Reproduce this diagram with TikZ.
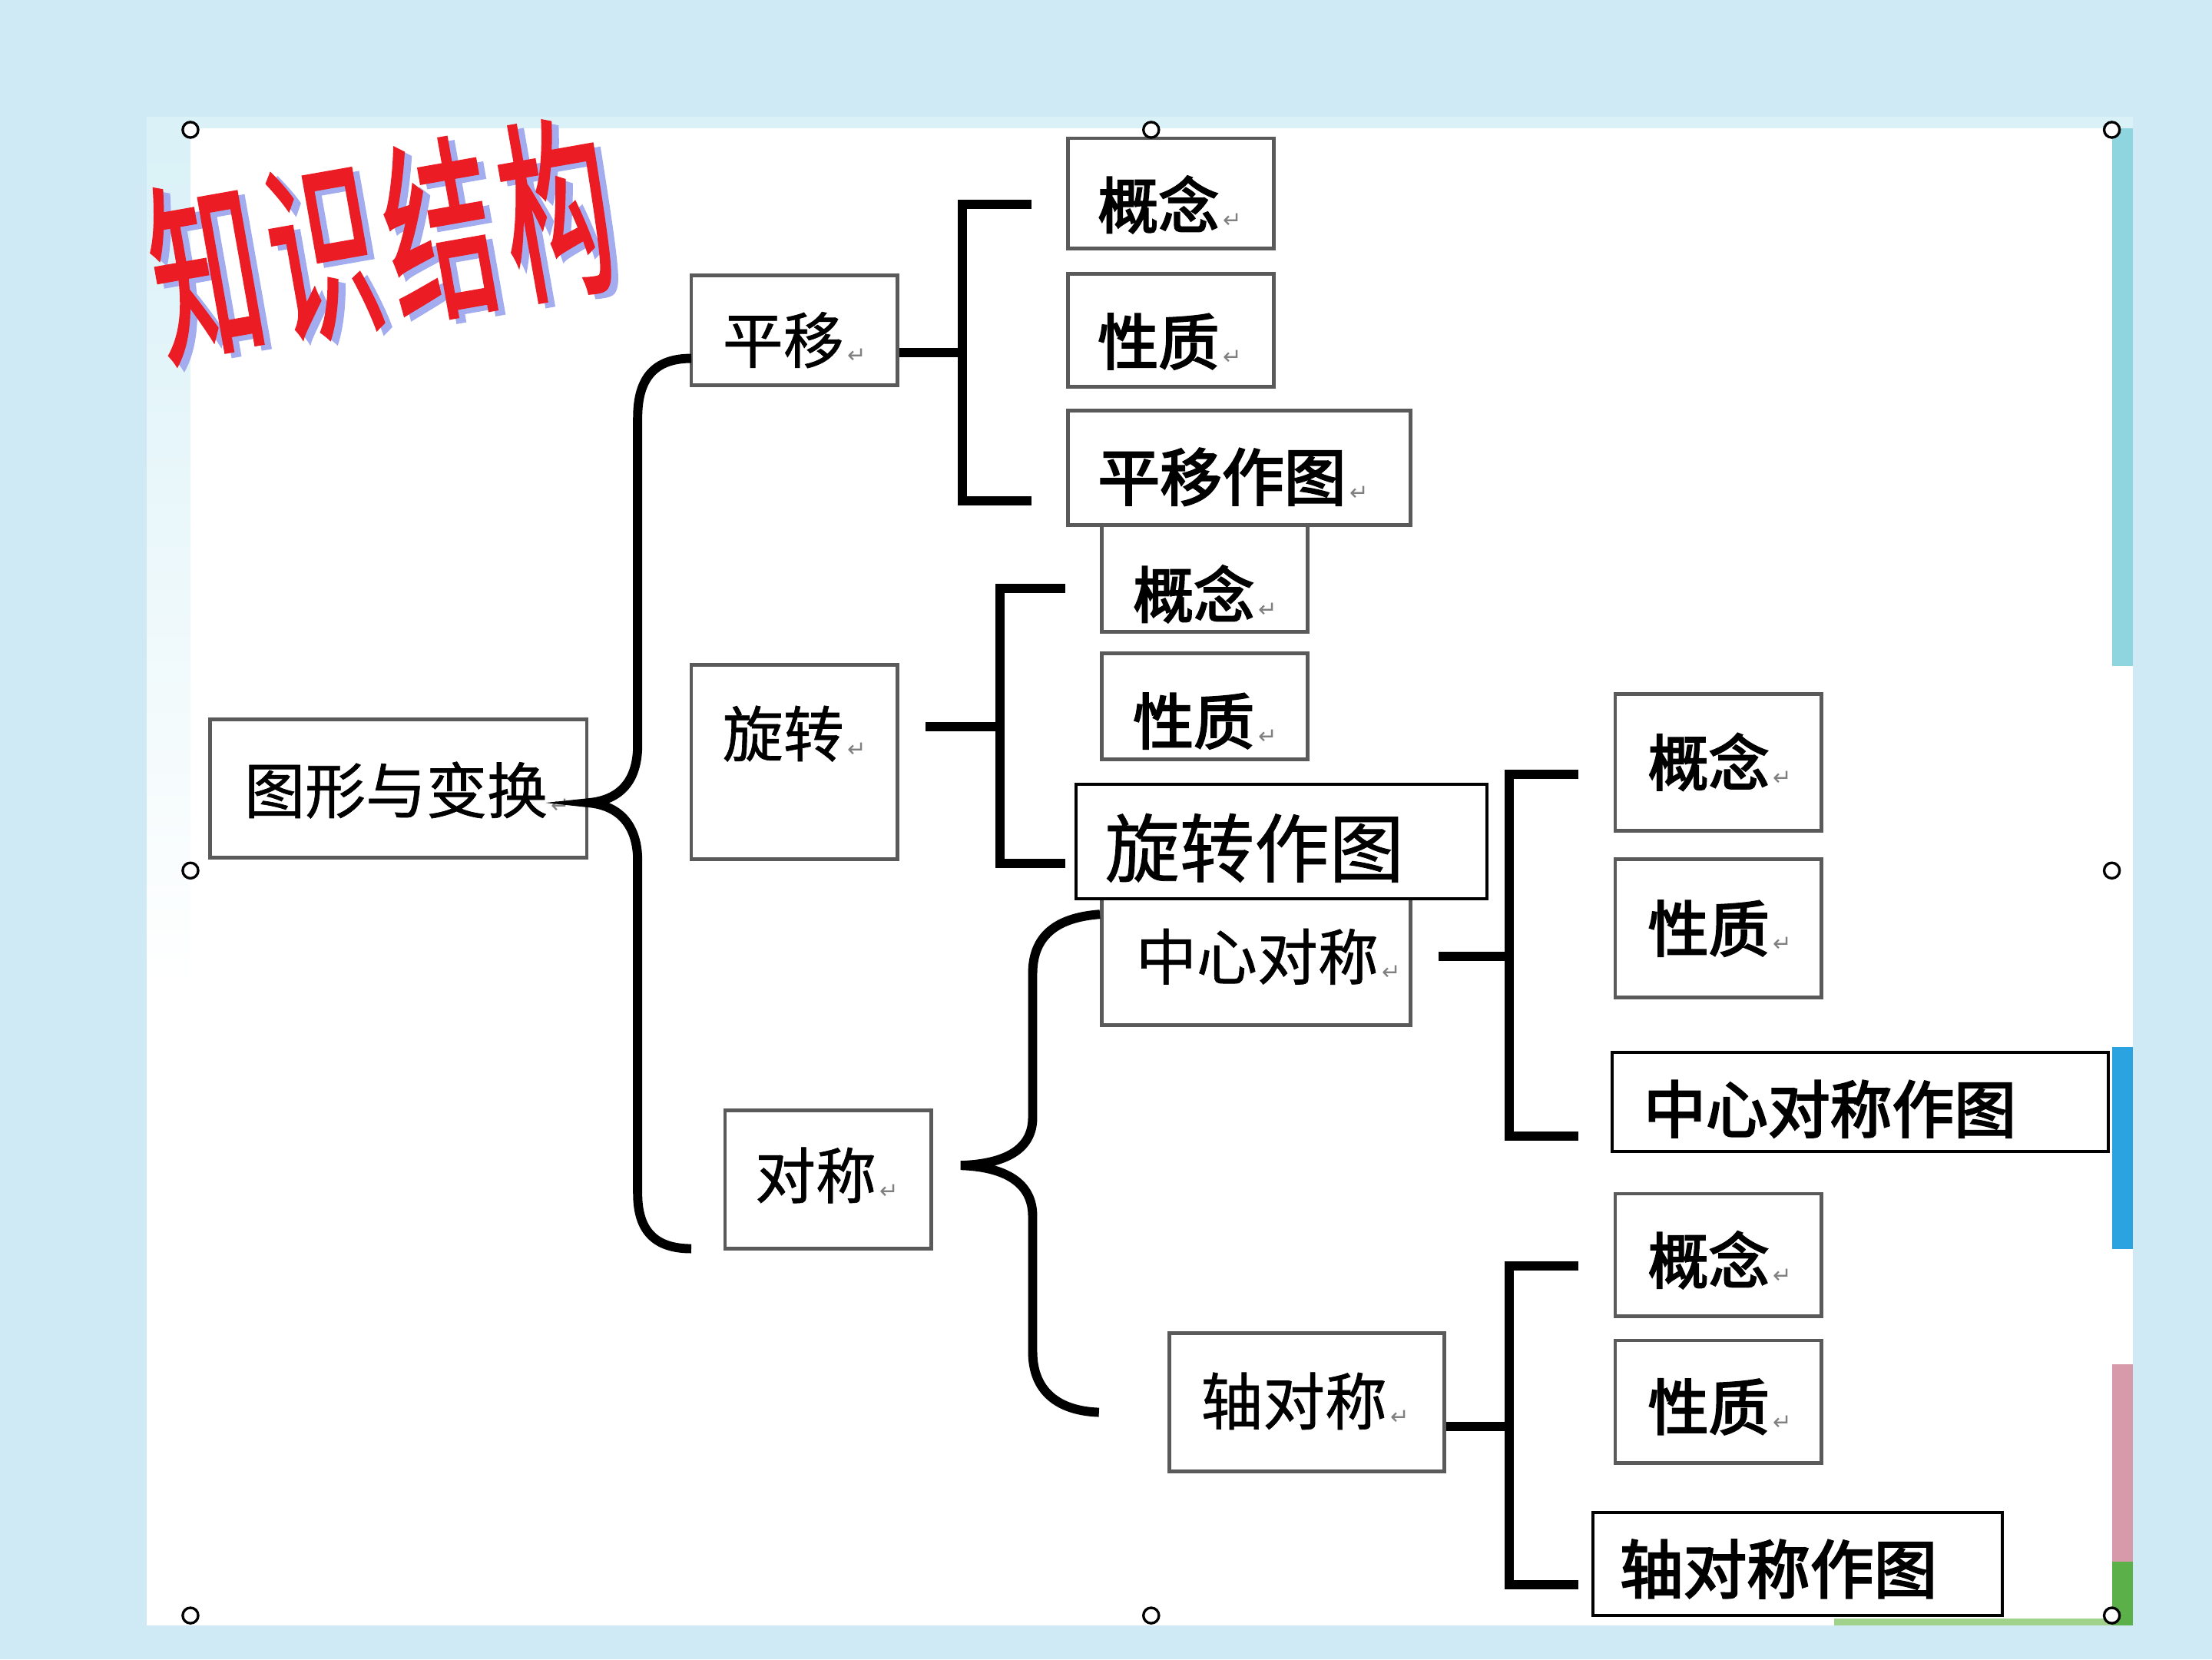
\documentclass[tikz,border=0pt]{standalone}
\usepackage{fontspec}
\newfontfamily\cjk{Noto Sans CJK SC}[FakeBold=0.8]
\newfontfamily\cjkb{Noto Sans CJK SC}[FakeBold=3]
\newfontfamily\cjkt{Noto Sans CJK SC}[FakeBold=2]
\newfontfamily\arr{DejaVu Sans}
\definecolor{bgblue}{HTML}{D0EAF5}
\definecolor{palecyan}{HTML}{D9F1F7}
\definecolor{boxgray}{HTML}{5A5A5A}
\definecolor{markgray}{HTML}{808080}
\definecolor{titlered}{HTML}{EC1C24}
\definecolor{titleshadow}{HTML}{A3ACEE}
\definecolor{stripteal}{HTML}{8FD5DF}
\definecolor{stripblue}{HTML}{2AA3E0}
\definecolor{strippink}{HTML}{D79AAA}
\definecolor{stripgreen}{HTML}{5CB04A}
\definecolor{lightgreen}{HTML}{A0D28C}
\newcommand\myfs[1]{\fontsize{#1}{#1}\selectfont}
\newcommand\rmark{{\arr\myfs{16}\color{markgray}\,↵}}
\newcommand\tk{\kern13pt}
\begin{document}
\begin{tikzpicture}[x=1pt,y=-1pt,
  gbox/.style={draw=boxgray, line width=2.6, fill=white, inner sep=0, rectangle},
  kbox/.style={draw=black, line width=2.2, fill=white, inner sep=0, rectangle},
  txt/.style={inner sep=0, anchor=west, text=black, font=\cjk},
  conn/.style={line width=6.5, line join=miter, line cap=butt},
  brace/.style={line width=6.5, line cap=butt},
  handle/.style={draw=black, fill=white, line width=1.8},
  ttlstyle/.style={inner sep=0, font=\cjkt\myfs{137}, rotate=10, xscale=0.56}]
\useasboundingbox (0,0) rectangle (1568,1176);
% background and panel
\fill[bgblue] (0,0) rectangle (1568,1176);
\fill[white] (104,83) rectangle (1512,1152);
\fill[palecyan] (104,83) rectangle (1512,91);
\shade[top color=palecyan, bottom color=white] (104,91) rectangle (135,700);
% right decoration strip
\fill[stripteal] (1497,91) rectangle (1512,472);
\fill[stripblue] (1497,742) rectangle (1512,885);
\fill[strippink] (1497,967) rectangle (1512,1107);
\fill[stripgreen] (1497,1107) rectangle (1512,1152);
\fill[lightgreen] (1300,1147) rectangle (1497,1152);
% title
\node[ttlstyle, text=titleshadow] (ttlshadow) at (275,173) {知\tk 识\tk 结\tk 构};
\node[ttlstyle, text=titlered] (ttl) at (270,170) {知\tk 识\tk 结\tk 构};
% boxes
\node[gbox, minimum width=267, minimum height=98] (tx) at (282.5,559) {};
\node[gbox, minimum width=146, minimum height=78] (py) at (563,234) {};
\node[gbox, minimum width=146, minimum height=138] (xz) at (563,540) {};
\node[gbox, minimum width=146, minimum height=98] (dc) at (587,836) {};
\node[gbox, minimum width=146, minimum height=78] (a1) at (830,137) {};
\node[gbox, minimum width=146, minimum height=80] (a2) at (830,234) {};
\node[gbox, minimum width=146, minimum height=76] (b1) at (854,410) {};
\node[gbox, minimum width=243, minimum height=81] (a3) at (878.5,331.5) {};
\node[gbox, minimum width=146, minimum height=75] (b2) at (854,500.5) {};
\node[gbox, minimum width=219, minimum height=106.5] (zx) at (890.5,673.25) {};
\node[kbox, minimum width=291, minimum height=81] (b3) at (908.5,596.5) {};
\node[gbox, minimum width=195, minimum height=98] (zd) at (926.5,994) {};
\node[gbox, minimum width=146, minimum height=97] (c1) at (1218,540.5) {};
\node[gbox, minimum width=146, minimum height=98] (c2) at (1218,658) {};
\node[kbox, minimum width=351.5, minimum height=70] (c3) at (1318.75,781) {};
\node[gbox, minimum width=146, minimum height=87] (d1) at (1218,889.5) {};
\node[gbox, minimum width=146, minimum height=87] (d2) at (1218,993.5) {};
\node[kbox, minimum width=290.5, minimum height=73] (d3) at (1274.25,1108.5) {};
% texts
\node[txt, font=\cjk\myfs{43}] (ttx) at (173,560) {图形与变换\rmark};
\node[txt, font=\cjk\myfs{43}] (tpy) at (512,241) {平移\rmark};
\node[txt, font=\cjk\myfs{43}] (txz) at (512,520) {旋转\rmark};
\node[txt, font=\cjk\myfs{43}] (tdc) at (535,833) {对称\rmark};
\node[txt, font=\cjkb\myfs{43}] (ta1) at (778,145) {概念\rmark};
\node[txt, font=\cjkb\myfs{43}] (ta2) at (778,242) {性质\rmark};
\node[txt, font=\cjkb\myfs{44}] (ta3) at (778,338) {平移作图\rmark};
\node[txt, font=\cjkb\myfs{43}] (tb1) at (803,421) {概念\rmark};
\node[txt, font=\cjkb\myfs{43}] (tb2) at (803,511) {性质\rmark};
\node[txt, font=\cjk\myfs{53}] (tb3) at (783,601) {旋转作图};
\node[txt, font=\cjk\myfs{43}] (tzx) at (805,678) {中心对称\rmark};
\node[txt, font=\cjk\myfs{44}] (tzd) at (851,993) {轴对称\rmark};
\node[txt, font=\cjkb\myfs{43}] (tc1) at (1168,540) {概念\rmark};
\node[txt, font=\cjkb\myfs{43}] (tc2) at (1168,658) {性质\rmark};
\node[txt, font=\cjkb\myfs{44}] (tc3) at (1165,786) {中心对称作图};
\node[txt, font=\cjkb\myfs{43}] (td1) at (1168,893) {概念\rmark};
\node[txt, font=\cjkb\myfs{43}] (td2) at (1168,997) {性质\rmark};
\node[txt, font=\cjkb\myfs{45}] (td3) at (1148,1112) {轴对称作图};
% main brace
\draw[brace] (490,254) .. controls (464,254) and (452,268) .. (452,296) -- (452,528)
  .. controls (452,553) and (440,567) .. (tx.east |- 0,569)
  .. controls (440,571) and (452,586) .. (452,610) -- (452,846)
  .. controls (452,872) and (464,885) .. (490,885);
% 平移 bracket
\draw[conn] ([yshift=-16pt]py.east) -- (682,250);
\draw[conn] (731,145) -- (682,145) -- (682,355) -- (731,355);
% 旋转 bracket
\draw[conn] (656,515) -- (709,515);
\draw[conn] (755,417) -- (709,417) -- (709,612) -- (755,612);
% 对称 brace
\draw[brace] (zx.west |- 0,648) .. controls (752,650) and (732,661) .. (732,690) -- (732,792)
  .. controls (732,815) and (712,825) .. (681,826)
  .. controls (712,827) and (732,838) .. (732,862) -- (732,958)
  .. controls (732,986) and (750,1000) .. (779,1001);
% 中心对称 bracket
\draw[conn] (1020,678) -- (1070,678);
\draw[conn] (1119,549) -- (1070,549) -- (1070,805) -- (1119,805);
% 轴对称 bracket
\draw[conn] (zd.east |- 0,1011) -- (1070,1011);
\draw[conn] (1119,897) -- (1070,897) -- (1070,1123) -- (1119,1123);
% selection handles
\foreach \hx/\hy in {135/92,816/92,1497/92,135/617,1497/617,135/1145,816/1145,1497/1145}
  \draw[handle] (\hx,\hy) circle[radius=5.5];
\end{tikzpicture}
\end{document}
